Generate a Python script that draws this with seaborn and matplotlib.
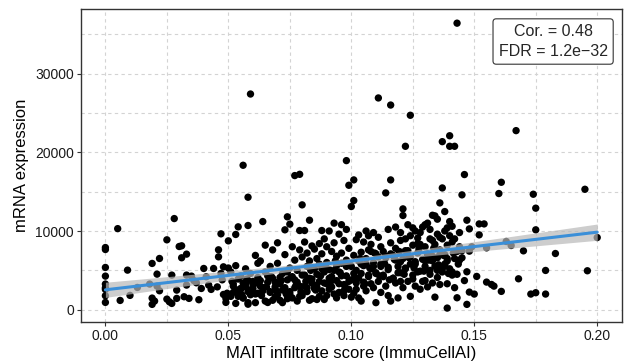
import numpy as np
import pandas as pd
import seaborn as sns
import matplotlib.pyplot as plt

# MAIT infiltrate score vs mRNA expression, punkte grob aus dem bild abgelesen
# (score, expression) paare, nach bereich gruppiert
zero_col = [(0.000, 7900), (0.000, 7650), (0.000, 5370), (0.000, 4270), (0.000, 3260),
            (0.000, 2790), (0.000, 2580), (0.000, 1780), (0.000, 930)]

left_pts = [(0.005, 10300), (0.006, 1180), (0.009, 5030), (0.010, 1820), (0.013, 2830),
            (0.018, 3260), (0.019, 5880), (0.019, 1480), (0.019, 680), (0.020, 1100),
            (0.021, 4520), (0.021, 3000), (0.022, 6510), (0.022, 2410),
            (0.025, 8880), (0.025, 1350), (0.026, 1010), (0.027, 800), (0.027, 4400),
            (0.028, 11580), (0.029, 1440), (0.029, 2490), (0.030, 8030), (0.031, 8120),
            (0.031, 6600), (0.033, 7060), (0.032, 1650), (0.034, 1440), (0.033, 4400),
            (0.035, 4270), (0.033, 3130), (0.036, 3700), (0.037, 3420), (0.038, 1270),
            (0.039, 2700), (0.040, 5240), (0.041, 4190), (0.042, 3130), (0.043, 2580),
            (0.044, 5240), (0.046, 6720), (0.046, 7610), (0.047, 9640), (0.047, 4610),
            (0.048, 5450), (0.048, 1940), (0.049, 930), (0.049, 1440), (0.050, 8750)]

cluster_pts = [(0.053, 9560), (0.054, 10530), (0.056, 18350), (0.058, 14290), (0.058, 10700),
               (0.059, 27400), (0.058, 700), (0.050, 5300), (0.051, 4800), (0.052, 3000),
               (0.052, 2200), (0.053, 5600), (0.054, 3900), (0.054, 1700), (0.055, 2600),
               (0.055, 4300), (0.056, 3400), (0.056, 1500), (0.057, 2900), (0.057, 5200),
               (0.058, 2300), (0.058, 3700), (0.059, 1900), (0.059, 4600), (0.060, 2700),
               (0.060, 3200), (0.061, 6900), (0.061, 2000), (0.062, 5900), (0.062, 4100),
               (0.063, 3000), (0.063, 6200), (0.064, 11200), (0.064, 2400), (0.065, 4800),
               (0.065, 8200), (0.066, 920), (0.066, 3500), (0.067, 5500), (0.067, 2200),
               (0.068, 7600), (0.068, 4000), (0.069, 2900), (0.069, 1600), (0.070, 8500),
               (0.070, 5900), (0.071, 3300), (0.071, 1200), (0.072, 4600), (0.072, 2500),
               (0.073, 10150), (0.073, 7000), (0.074, 11800), (0.074, 3800), (0.074, 1400),
               (0.075, 10870), (0.075, 5300), (0.075, 2000), (0.076, 8000), (0.076, 4200),
               (0.077, 17040), (0.077, 6300), (0.077, 2800), (0.078, 3500), (0.078, 5000),
               (0.079, 17200), (0.079, 10060), (0.079, 7600), (0.079, 1700), (0.080, 13320),
               (0.080, 6700), (0.080, 4400), (0.081, 10060), (0.081, 3000), (0.081, 8600),
               (0.082, 5500), (0.082, 2300), (0.082, 7200), (0.083, 11370), (0.083, 4000),
               (0.083, 6200), (0.084, 3400), (0.084, 8100), (0.084, 1400), (0.085, 5200),
               (0.085, 7700), (0.085, 2700), (0.086, 6500), (0.086, 4500), (0.086, 1300),
               (0.087, 3600), (0.087, 8400), (0.087, 5800), (0.088, 10060), (0.088, 2400),
               (0.088, 7100), (0.089, 4800), (0.089, 9000), (0.089, 1300), (0.090, 6000),
               (0.090, 3300), (0.090, 8000), (0.091, 5100), (0.091, 2600), (0.091, 10000),
               (0.092, 7400), (0.092, 4200), (0.093, 11000), (0.093, 8500), (0.093, 2000),
               (0.094, 5600), (0.094, 3700), (0.094, 6800), (0.095, 9600), (0.095, 4800),
               (0.095, 2200), (0.096, 10800), (0.096, 7200), (0.096, 5900), (0.097, 3200),
               (0.097, 8800), (0.097, 1800), (0.098, 18940), (0.098, 10200), (0.098, 6300),
               (0.098, 4300), (0.099, 15810), (0.099, 7800), (0.099, 2600), (0.100, 13110),
               (0.100, 5500), (0.100, 3800), (0.101, 16490), (0.101, 13870), (0.101, 6900),
               (0.101, 2100), (0.102, 8900), (0.102, 5000), (0.102, 3400), (0.103, 9500),
               (0.103, 6200), (0.103, 1500), (0.104, 7300), (0.104, 4600), (0.104, 1100),
               (0.105, 8600), (0.105, 5600), (0.105, 3000), (0.106, 10000), (0.106, 6500),
               (0.106, 2400), (0.107, 9400), (0.107, 4200), (0.107, 7600), (0.108, 5200),
               (0.108, 3300), (0.108, 8300), (0.109, 9800), (0.109, 6000), (0.109, 2800),
               (0.110, 7100), (0.110, 4700), (0.110, 900), (0.111, 26900), (0.111, 9200),
               (0.111, 3600), (0.112, 5800), (0.112, 8000), (0.112, 2200), (0.113, 7400),
               (0.113, 4400), (0.114, 14840), (0.114, 6600), (0.114, 3000), (0.115, 10200),
               (0.115, 5100), (0.115, 1800), (0.116, 26000), (0.116, 16490), (0.116, 8500),
               (0.116, 1100), (0.117, 4000), (0.117, 6900), (0.118, 10500), (0.118, 3400),
               (0.118, 7800), (0.119, 5500), (0.119, 1500), (0.120, 8800), (0.120, 4700),
               (0.120, 6100), (0.121, 12810), (0.121, 11970), (0.121, 2800), (0.122, 20760),
               (0.122, 7500), (0.122, 5200), (0.123, 10800), (0.123, 3600), (0.124, 24700),
               (0.124, 9400), (0.124, 6700), (0.124, 1700), (0.125, 8200), (0.125, 4400),
               (0.126, 10000), (0.126, 5800), (0.126, 3000), (0.127, 7200), (0.127, 9100),
               (0.128, 4900), (0.128, 2600), (0.129, 6400), (0.129, 10500), (0.130, 8000),
               (0.130, 3700), (0.130, 5500), (0.131, 11000), (0.131, 7000), (0.131, 2900),
               (0.132, 9000), (0.132, 4500), (0.133, 12000), (0.133, 6200), (0.133, 3400),
               (0.134, 11920), (0.134, 8300), (0.134, 1600), (0.135, 5000), (0.135, 9600),
               (0.135, 6600), (0.136, 13570), (0.136, 7600), (0.136, 3200), (0.137, 21350),
               (0.137, 15470), (0.137, 9000), (0.137, 4800), (0.138, 12470), (0.138, 5600),
               (0.138, 7000), (0.139, 210), (0.139, 10400), (0.139, 3300), (0.139, 6200),
               (0.140, 22100), (0.140, 20760), (0.140, 11200), (0.140, 5200), (0.141, 8600),
               (0.141, 4400), (0.142, 20760), (0.142, 6500), (0.142, 2800), (0.143, 36400),
               (0.143, 1520), (0.143, 4500), (0.144, 8000), (0.144, 6300), (0.145, 14590),
               (0.145, 7500), (0.146, 17170), (0.146, 3700), (0.147, 11370), (0.147, 4820),
               (0.147, 680), (0.148, 10270), (0.148, 7440), (0.148, 2240), (0.149, 8000)]

# der dichte untere streifen (fast schwarz im original)
dense_pts = [(0.051, 1700), (0.052, 3300), (0.053, 800), (0.054, 2000), (0.055, 2700),
             (0.056, 1500), (0.057, 3200), (0.058, 900), (0.059, 2200), (0.060, 3600),
             (0.061, 900), (0.062, 2100), (0.063, 3700), (0.064, 2800), (0.065, 1100),
             (0.066, 4300), (0.067, 2300), (0.068, 1200), (0.069, 3500), (0.070, 1900),
             (0.071, 4100), (0.072, 900), (0.073, 2800), (0.074, 4800), (0.075, 2300),
             (0.076, 1500), (0.077, 3800), (0.078, 1100), (0.079, 3000), (0.080, 1800),
             (0.081, 4400), (0.082, 2800), (0.083, 1200), (0.084, 3900), (0.085, 3100),
             (0.086, 2900), (0.087, 1700), (0.088, 5200), (0.089, 3400), (0.090, 1800),
             (0.091, 4000), (0.092, 2900), (0.093, 5000), (0.094, 1500), (0.095, 3300),
             (0.096, 4300), (0.097, 2400), (0.098, 5500), (0.099, 3600), (0.100, 1600),
             (0.101, 4600), (0.102, 2600), (0.103, 4000), (0.104, 5800), (0.105, 3500),
             (0.106, 5800), (0.107, 4400), (0.108, 7400), (0.109, 5500), (0.110, 4600),
             (0.111, 6700), (0.112, 5500), (0.113, 4200), (0.114, 6800), (0.115, 5400),
             (0.116, 7100), (0.117, 4000), (0.118, 6300), (0.119, 4700), (0.120, 3600),
             (0.121, 6500), (0.122, 5300), (0.123, 7500), (0.124, 5800), (0.125, 3900),
             (0.126, 6100), (0.127, 4800), (0.128, 8300), (0.129, 3600), (0.130, 6200),
             (0.131, 7100), (0.132, 5000), (0.133, 6800), (0.134, 5500), (0.135, 4100),
             (0.136, 7000), (0.137, 5200), (0.138, 5800), (0.139, 6500), (0.141, 4800)]

dense_mid = [(0.0455, 2900), (0.0475, 3800), (0.0495, 2100), (0.0515, 3600), (0.0535, 2500),
             (0.0555, 1900), (0.0575, 3900), (0.0595, 2600), (0.0615, 3400), (0.0635, 1800),
             (0.0655, 2900), (0.0675, 4200), (0.0695, 2400), (0.0715, 3700), (0.0735, 2000),
             (0.0755, 4100), (0.0775, 3100), (0.0795, 2300), (0.0815, 3600), (0.0835, 5000),
             (0.0855, 2500), (0.0875, 4300), (0.0895, 5600), (0.0915, 3500), (0.0935, 6200),
             (0.0955, 4700), (0.0975, 2900), (0.0995, 5700), (0.1015, 4100), (0.1035, 6500),
             (0.1055, 3300), (0.1075, 5300), (0.1095, 7200), (0.1115, 4300), (0.1135, 5900),
             (0.1155, 3800), (0.1175, 6400), (0.1195, 7400), (0.1215, 4500), (0.1235, 6600),
             (0.1255, 5300), (0.1275, 7700), (0.1295, 4900), (0.1315, 6300), (0.1335, 7800),
             (0.1355, 5700), (0.1375, 6900), (0.1395, 4600), (0.1415, 7200), (0.1435, 5800)]

upper_pts = [(0.120, 9800), (0.122, 9000), (0.125, 10400), (0.127, 8400), (0.128, 9800),
             (0.130, 10800), (0.132, 10200), (0.133, 8800), (0.135, 11500), (0.136, 9200),
             (0.138, 10000), (0.139, 8200), (0.140, 9400), (0.141, 10600), (0.142, 9000),
             (0.143, 7400), (0.144, 9800), (0.145, 6600)]

right_pts = [(0.150, 1990), (0.151, 4230), (0.152, 10900), (0.152, 9510), (0.154, 10900),
             (0.155, 7860), (0.155, 3510), (0.157, 3210), (0.158, 3000), (0.160, 14760),
             (0.161, 16190), (0.161, 2330), (0.163, 8670), (0.165, 8160), (0.167, 22750),
             (0.168, 3930), (0.170, 7480), (0.173, 1990), (0.174, 14670), (0.175, 12900),
             (0.175, 10150), (0.175, 2160), (0.179, 4990), (0.179, 1990), (0.183, 7140),
             (0.195, 15300), (0.196, 4950), (0.200, 9170)]

cor_text = "Cor. = 0.48\nFDR = 1.2e\u221232"

df = pd.DataFrame(zero_col + left_pts + cluster_pts + dense_pts + dense_mid
                  + upper_pts + right_pts, columns=["score", "expr"])
print(df.shape)

sns.set_theme(style="white")
plt.rcParams["font.family"] = ["Liberation Sans", "DejaVu Sans"]

fig = plt.figure(figsize=(6.24, 3.64), dpi=100)
ax = fig.add_axes([0.1295, 0.1145, 0.867, 0.861])

# grid wie ggplot (major + minor, gestrichelt)
for v in [-0.025, 0.0, 0.025, 0.05, 0.075, 0.1, 0.125, 0.15, 0.175, 0.2]:
    ax.axvline(v, color="#D3D3D3", lw=0.8, ls=(0, (3, 3)), zorder=0)
for v in [0, 5000, 10000, 15000, 20000, 25000, 30000, 35000]:
    ax.axhline(v, color="#D3D3D3", lw=0.8, ls=(0, (3, 3)), zorder=0)

sns.scatterplot(data=df, x="score", y="expr", color="black", s=28,
                edgecolor="none", ax=ax, zorder=3)

# lineare regression + 95% band
b, a = np.polyfit(df.score, df.expr, 1)
print(a, b)
xs = np.linspace(df.score.min(), df.score.max(), 100)
n = len(df)
resid = df.expr - (a + b * df.score)
s_err = np.sqrt((resid ** 2).sum() / (n - 2))
xm = df.score.mean()
se = s_err * np.sqrt(1 / n + (xs - xm) ** 2 / ((df.score - xm) ** 2).sum())
t = 1.965
ax.fill_between(xs, a + b * xs - t * se, a + b * xs + t * se, color="#B8B8B8",
                alpha=0.7, lw=0, zorder=4)
sns.lineplot(x=xs, y=a + b * xs, color="#3B8FD8", lw=2.2, ax=ax, zorder=5)

ymin, ymax = df.expr.min(), df.expr.max()
pad = (ymax - ymin) * 0.05
ax.set_xlim(-0.01, 0.21)
ax.set_ylim(ymin - pad, ymax + pad)
ax.set_xticks([0.0, 0.05, 0.1, 0.15, 0.2])
ax.set_xticklabels(["0.00", "0.05", "0.10", "0.15", "0.20"])
ax.set_yticks([0, 10000, 20000, 30000])
ax.tick_params(axis="both", length=3, width=0.8, color="#333333", labelsize=10,
               labelcolor="#1A1A1A", pad=2, bottom=True, left=True)
for sp in ax.spines.values():
    sp.set_color("#333333")
    sp.set_linewidth(1.0)

ax.set_xlabel("MAIT infiltrate score (ImmuCellAI)", fontsize=12, color="black", labelpad=2)
ax.set_ylabel("mRNA expression", fontsize=12, color="black", labelpad=4)

ax.text(0.873, 0.896, cor_text, transform=ax.transAxes, ha="center", va="center",
        fontsize=11.5, linespacing=1.35, zorder=6,
        bbox=dict(boxstyle="round,pad=0.35,rounding_size=0.2", fc="white",
                  ec="#333333", lw=0.8))

fig.savefig("out.png", dpi=100)
